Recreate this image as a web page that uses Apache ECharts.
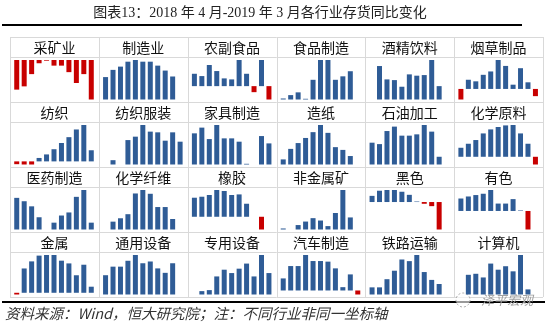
<!DOCTYPE html>
<html>
<head>
<meta charset="utf-8">
<script src="https://cdn.jsdelivr.net/npm/echarts@6/dist/echarts.min.js"></script>
<style>
  html, body { margin: 0; padding: 0; background: #fff; }
  #chart { width: 550px; height: 325px; }
</style>
</head>
<body>
<div id="chart"></div>
<script>
// Months covered (Jan/Feb reported together)
const months = ['2018-04', '2018-05', '2018-06', '2018-07', '2018-08', '2018-09',
                '2018-10', '2018-11', '2018-12', '2019-02', '2019-03'];

// Panel titles, row by row
const industries = ['采矿业', '制造业', '农副食品', '食品制造', '酒精饮料', '烟草制品',
                    '纺织', '纺织服装', '家具制造', '造纸', '石油加工', '化学原料',
                    '医药制造', '化学纤维', '橡胶', '非金属矿', '黑色', '有色',
                    '金属', '通用设备', '专用设备', '汽车制造', '铁路运输', '计算机'];

// Inventory YoY change per industry (each panel has its own scale)
const mining      = [-30, -26.7, -14.3, -3.3, -0.7, -5.7, -5.7, -12.3, -23.3, -14.3, -40];
const manufacture = [22.7, 30, 33.3, 38.3, 40, 38.3, 38.3, 34.3, 29.3, 23.3, null];
const agriFood    = [12.3, 10, 21, 15, 7.7, 6.7, 26, 12.3, -6, 26, -13.3];
const foodMfg     = [1, 4.3, 7, 0.7, 19.3, 38.7, 38.7, 19.3, 22.7, 27.7, null];
const liquor      = [null, 33.3, 20, 19.3, 12.7, 25, 23.7, 24.3, 39.3, 13.3, null];
const tobacco     = [-10.7, 9.3, 7.7, 14.3, 17.7, 29.3, 23.3, 4.3, 21, 6.7, -7.3];
const textile     = [-2.7, -3, -3, 3.3, 6.7, 11.7, 17.7, 23.3, 30.7, 35, 10.7];
const apparel     = [null, 4.3, null, 24.3, 27.7, 39.3, 32.7, 32, 23.7, 32, 22.7];
const furniture   = [31, 36.7, 25.3, 39.3, 26, 26, 22.7, 0.7, null, 28.3, 21];
const paper       = [5, 15.3, 21, 26, 31.7, 38.7, 31, 17, 14.3, 8.3, null];
const petroleum   = [21.7, 20.3, 33.3, 37.7, 28.7, 28.7, 30, 39.3, 32.7, 7.7, null];
const chemical    = [9, 13, 16.7, 23.3, 27.3, 29.7, 31.3, 31.7, 23.3, 13, -7.7];
const pharma      = [31, 27.7, 22.7, 12, null, 6.7, 13.7, 16.7, 32, 38.7, 6.7];
const fiber       = [null, 7.7, 11, 15, 35.3, 38.7, 35, 22, 22, 10.3, null];
const rubber      = [19, 20, 21.7, 26.7, 25.7, 21.7, 22.3, 13, null, -12.7, null];
const nonMetal    = [1, null, 4.3, 7.7, 11, 8.7, 3.3, 16, 38.3, 11.7, null];
const ferrous     = [6, 11, 11.7, 11.7, 10, 7, 0.5, -1.7, -4, -26.7, null];
const nonFerrous  = [12.3, 14.3, 15.7, 17, 20.7, 7.3, 7.3, 11.7, 0.5, -18.3, null];
const metal       = [-1.7, 24, 31, 36.7, 37.3, 37.3, 31.7, 29, 17.3, 27.7, 6];
const generalEq   = [18.7, 27, 27, 32.7, 38.3, 30.3, 32, 25.3, 21, 30.3, null];
const specialEq   = [null, 3.3, 4.3, 17.7, 24.3, 21, 25.3, 30.3, 17.7, 38.7, 21];
const autos       = [12, 24.3, 24.3, 35.3, 29.3, 29.3, 28.7, 22, 3.3, 16, -4];
const railway     = [7, 7, 15, 23.3, 34.3, 32.7, 38.7, 22, 14.3, 10.3, null];
const computer    = [null, 19.3, 20.3, 16.7, 30.3, 24.3, 27.7, 22.7, 38.7, 5, null];

const panelData = [mining, manufacture, agriFood, foodMfg, liquor, tobacco,
                   textile, apparel, furniture, paper, petroleum, chemical,
                   pharma, fiber, rubber, nonMetal, ferrous, nonFerrous,
                   metal, generalEq, specialEq, autos, railway, computer];

const BLUE = '#2F5C96';
const RED = '#C80000';
const FRAME = '#D9D9D9';
const CJK = '"Noto Sans CJK SC", "Noto Sans", sans-serif';

// Small-multiple table geometry
const COLS = 6, ROWS = 4;
const LEFT = 10, RIGHT = 543, TOP = 37, ROW_H = 65, HEAD_H = 20;
const CELL_W = (RIGHT - LEFT) / COLS;

const grids = [], xAxes = [], yAxes = [], series = [], graphics = [];

panelData.forEach((vals, i) => {
  const r = Math.floor(i / COLS), c = i % COLS;
  const cx = LEFT + c * CELL_W, cy = TOP + r * ROW_H;
  const nums = vals.filter(v => v !== null);
  grids.push({ left: cx + 3, top: cy + 23, width: 82, height: 39.5 });
  xAxes.push({ type: 'category', gridIndex: i, data: months, show: false });
  yAxes.push({ type: 'value', gridIndex: i, show: false,
               min: Math.min(0, ...nums), max: Math.max(0, ...nums),
               splitLine: { show: false } });
  series.push({
    type: 'bar', name: industries[i], xAxisIndex: i, yAxisIndex: i,
    data: vals, barWidth: 5,
    itemStyle: { color: p => (p.value < 0 ? RED : BLUE) }
  });
  graphics.push({
    type: 'text', x: cx + CELL_W / 2, y: cy + HEAD_H / 2 + 1,
    style: { text: industries[i], align: 'center', verticalAlign: 'middle',
             font: '14px ' + CJK, fill: '#111' }
  });
});

// Table frame: cell borders and the rule under each header band
for (let r = 0; r <= ROWS; r++) {
  const y = Math.round(TOP + r * ROW_H) + 0.5;
  graphics.push({ type: 'line', shape: { x1: LEFT, y1: y, x2: RIGHT, y2: y },
                  style: { stroke: FRAME, lineWidth: 1 } });
  if (r < ROWS) {
    const yh = Math.round(TOP + r * ROW_H + HEAD_H) + 0.5;
    graphics.push({ type: 'line', shape: { x1: LEFT, y1: yh, x2: RIGHT, y2: yh },
                    style: { stroke: FRAME, lineWidth: 1 } });
  }
}
for (let c = 0; c <= COLS; c++) {
  const x = Math.round(LEFT + c * CELL_W) + 0.5;
  graphics.push({ type: 'line', shape: { x1: x, y1: TOP, x2: x, y2: TOP + ROWS * ROW_H },
                  style: { stroke: FRAME, lineWidth: 1 } });
}

// Heading, rules and source note
graphics.push(
  { type: 'text', x: 260, y: 13,
    style: { text: '图表13：2018 年 4 月-2019 年 3 月各行业存货同比变化',
             align: 'center', verticalAlign: 'middle',
             font: '14px "Liberation Serif", ' + CJK, fill: '#222' } },
  { type: 'line', shape: { x1: 2, y1: 25, x2: 522, y2: 25 },
    style: { stroke: '#000', lineWidth: 2 } },
  { type: 'line', shape: { x1: 2, y1: 302, x2: 545, y2: 302 },
    style: { stroke: '#000', lineWidth: 2 } },
  { type: 'text', x: 5, y: 313,
    style: { text: '资料来源：Wind，恒大研究院；注：不同行业非同一坐标轴',
             align: 'left', verticalAlign: 'middle',
             font: 'italic 14.5px ' + CJK, fill: '#333' } },
  { type: 'circle', shape: { cx: 463, cy: 300, r: 7 },
    style: { fill: 'rgba(255,255,255,0.6)', stroke: '#AAA', lineWidth: 1, lineDash: [2, 2] } },
  { type: 'text', x: 507, y: 300,
    style: { text: '泽平宏观', align: 'center', verticalAlign: 'middle',
             font: 'italic 13px ' + CJK, fill: '#A0A0A0' } }
);

const chart = echarts.init(document.getElementById('chart'), null, { renderer: 'canvas' });
chart.setOption({
  animation: false,
  backgroundColor: '#fff',
  grid: grids,
  xAxis: xAxes,
  yAxis: yAxes,
  series: series,
  graphic: graphics
});
</script>
</body>
</html>
